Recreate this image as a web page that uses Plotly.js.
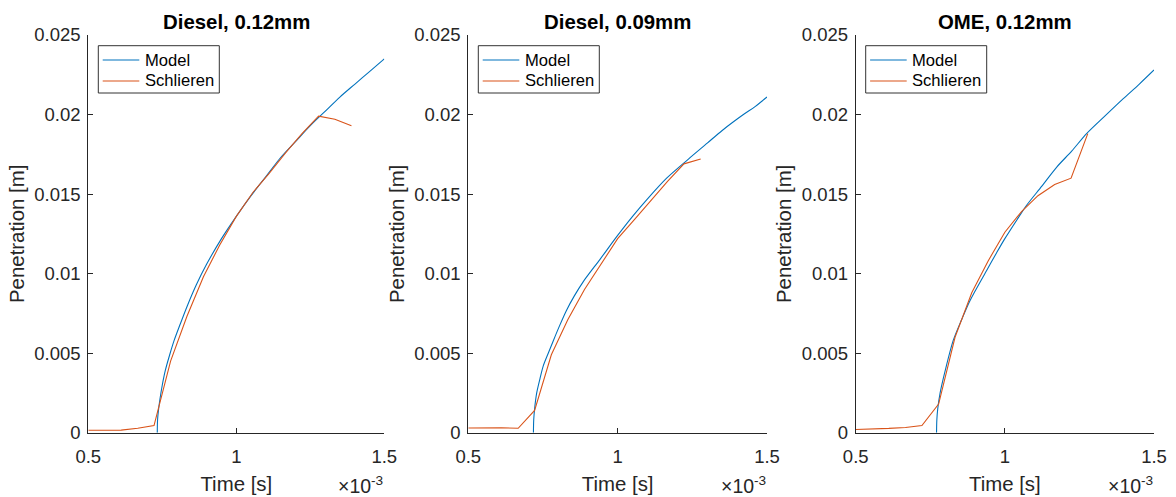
<!DOCTYPE html>
<html>
<head>
<meta charset="utf-8">
<script src="https://cdn.plot.ly/plotly-3.0.1.min.js"></script>
<style>html,body{margin:0;padding:0;background:#fff;}#chart{width:1176px;height:497px;}</style>
</head>
<body>
<div id="chart"></div>
<script>
// ---- data (time in ms, i.e. x 10^-3 s; penetration in m) ----
const panelTitles = ['Diesel, 0.12mm', 'Diesel, 0.09mm', 'OME, 0.12mm'];
const seriesNames = ['Model', 'Schlieren'];

const model1Time = [0.733, 0.734, 0.737, 0.742, 0.750, 0.760, 0.775, 0.790, 0.810, 0.835, 0.865, 0.900, 0.950, 1.000, 1.050, 1.100, 1.150, 1.200, 1.250, 1.300, 1.350, 1.400, 1.450, 1.500];
const model1Pen  = [0, 0.0008, 0.0014, 0.0021, 0.0030, 0.0039, 0.0049, 0.0058, 0.0068, 0.0080, 0.0093, 0.0106, 0.0122, 0.0136, 0.0149, 0.0161, 0.0173, 0.0183, 0.0193, 0.0202, 0.0211, 0.0219, 0.0227, 0.0235];
const schl1Time  = [0.500, 0.556, 0.611, 0.667, 0.722, 0.778, 0.833, 0.889, 0.944, 1.000, 1.056, 1.111, 1.167, 1.222, 1.278, 1.333, 1.389];
const schl1Pen   = [0.00015, 0.00017, 0.00016, 0.00028, 0.00045, 0.0045, 0.0073, 0.0098, 0.0118, 0.0136, 0.0151, 0.0163, 0.0176, 0.0188, 0.0199, 0.0197, 0.0193];

const model2Time = [0.718, 0.719, 0.722, 0.729, 0.740, 0.751, 0.770, 0.785, 0.805, 0.829, 0.855, 0.885, 0.941, 1.000, 1.050, 1.100, 1.164, 1.237, 1.300, 1.350, 1.421, 1.460, 1.500];
const model2Pen  = [0, 0.0008, 0.0015, 0.0025, 0.0034, 0.0042, 0.0051, 0.0058, 0.0067, 0.0077, 0.0086, 0.0095, 0.0109, 0.0124, 0.0136, 0.0147, 0.0160, 0.0172, 0.0182, 0.0190, 0.0200, 0.0205, 0.0211];
const schl2Time  = [0.500, 0.556, 0.611, 0.667, 0.722, 0.778, 0.833, 0.889, 0.944, 1.000, 1.056, 1.111, 1.167, 1.222, 1.278];
const schl2Pen   = [0.0003, 0.00032, 0.00031, 0.00028, 0.0014, 0.0049, 0.0071, 0.0090, 0.0106, 0.0122, 0.0134, 0.0146, 0.0158, 0.0169, 0.0172];

const model3Time = [0.771, 0.772, 0.775, 0.783, 0.800, 0.827, 0.855, 0.883, 0.939, 0.972, 1.000, 1.048, 1.073, 1.124, 1.174, 1.224, 1.274, 1.335, 1.397, 1.450, 1.500];
const model3Pen  = [0, 0.0008, 0.0015, 0.0025, 0.0039, 0.0058, 0.0071, 0.0083, 0.0102, 0.0113, 0.0122, 0.0136, 0.0143, 0.0155, 0.0167, 0.0177, 0.0188, 0.0199, 0.0210, 0.0219, 0.0228];
const schl3Time  = [0.500, 0.556, 0.611, 0.667, 0.722, 0.778, 0.833, 0.889, 0.944, 1.000, 1.056, 1.111, 1.167, 1.222, 1.278];
const schl3Pen   = [0.0002, 0.00022, 0.00027, 0.00033, 0.00045, 0.0018, 0.0060, 0.0088, 0.0108, 0.0126, 0.0139, 0.0149, 0.0156, 0.0160, 0.0188];

const xTickVals = [0.5, 1, 1.5];
const xTickText = ['0.5', '1', '1.5'];
const yTickVals = [0, 0.005, 0.01, 0.015, 0.02, 0.025];
const yTickText = ['0', '0.005', '0.01', '0.015', '0.02', '0.025'];

// ---- styling ----
const FONT = 'Liberation Sans, Arial, Helvetica, sans-serif';
const AX = '#262626';
const BLUE = '#0072BD';
const ORANGE = '#D95319';
const W = 1176, H = 497;
const xDomains = [[88.3 / W, 384.3 / W], [468.3 / W, 767 / W], [855.7 / W, 1154 / W]];
const yDomain = [(H - 432.7) / H, (H - 35) / H];
const px = v => v / W;          // horizontal pixel -> paper
const py = v => (H - v) / H;    // vertical pixel (from top) -> paper

const panels = [
  {mt: model1Time, mp: model1Pen, st: schl1Time, sp: schl1Pen},
  {mt: model2Time, mp: model2Pen, st: schl2Time, sp: schl2Pen},
  {mt: model3Time, mp: model3Pen, st: schl3Time, sp: schl3Pen}
];
const seriesColors = [BLUE, ORANGE];

const traces = [];
const layout = {
  width: W, height: H,
  margin: {l: 0, r: 0, t: 0, b: 0},
  paper_bgcolor: '#fff', plot_bgcolor: '#fff',
  showlegend: false,
  hovermode: false,
  annotations: [],
  shapes: []
};

panels.forEach((p, i) => {
  const n = i === 0 ? '' : String(i + 1);
  const xa = 'x' + n, ya = 'y' + n;
  traces.push({x: p.mt, y: p.mp, type: 'scatter', mode: 'lines', name: seriesNames[0],
    xaxis: xa, yaxis: ya, line: {color: BLUE, width: 1.1, shape: 'spline', smoothing: 0.8}});
  traces.push({x: p.st, y: p.sp, type: 'scatter', mode: 'lines', name: seriesNames[1],
    xaxis: xa, yaxis: ya, line: {color: ORANGE, width: 1.1}});

  layout['xaxis' + n] = {
    domain: xDomains[i], anchor: ya, range: [0.5, 1.5],
    showline: true, linecolor: AX, linewidth: 1, mirror: false,
    ticks: 'inside', ticklen: 5, tickwidth: 1, tickcolor: AX,
    tickvals: xTickVals, ticktext: xTickText, ticklabelstandoff: 7,
    tickfont: {family: FONT, size: 18.5, color: AX},
    showgrid: false, zeroline: false, fixedrange: true,
    title: {text: 'Time [s]', font: {family: FONT, size: 20.4, color: AX}, standoff: 10}
  };
  layout['yaxis' + n] = {
    domain: yDomain, anchor: xa, range: [0, 0.025],
    showline: true, linecolor: AX, linewidth: 1, mirror: false,
    ticks: 'inside', ticklen: 5, tickwidth: 1, tickcolor: AX,
    tickvals: yTickVals, ticktext: yTickText, ticklabelstandoff: 3,
    tickfont: {family: FONT, size: 18.5, color: AX},
    showgrid: false, zeroline: false, fixedrange: true,
    title: {text: 'Penetration [m]', font: {family: FONT, size: 20.4, color: AX}, standoff: 4}
  };

  // legend box (drawn in paper coordinates, top-left of each panel)
  const L = xDomains[i][0] * W;
  layout.shapes.push({type: 'rect', xref: 'paper', yref: 'paper',
    x0: px(L + 10), x1: px(L + 131), y0: py(93), y1: py(45.7),
    line: {color: '#333', width: 1}, fillcolor: '#fff', layer: 'above'});
  [60, 81].forEach((yy, k) => {
    layout.shapes.push({type: 'line', xref: 'paper', yref: 'paper',
      x0: px(L + 14.4), x1: px(L + 51), y0: py(yy), y1: py(yy),
      line: {color: seriesColors[k], width: 1.1}, layer: 'above'});
    layout.annotations.push({text: seriesNames[k], xref: 'paper', yref: 'paper',
      x: px(L + 54.5), y: py(yy), xanchor: 'left', yanchor: 'middle', showarrow: false,
      font: {family: FONT, size: 16.6, color: '#000'}});
  });

  layout.annotations.push({
    text: '<b>' + panelTitles[i] + '</b>', xref: 'paper', yref: 'paper',
    x: (xDomains[i][0] + xDomains[i][1]) / 2, y: py(22),
    xanchor: 'center', yanchor: 'middle', showarrow: false,
    font: {family: FONT, size: 20.4, color: '#000'}
  });
  layout.annotations.push({
    text: '×10<sup>-3</sup>', xref: 'paper', yref: 'paper',
    x: xDomains[i][1] + 0.5 / W, y: py(485),
    xanchor: 'right', yanchor: 'middle', showarrow: false,
    font: {family: FONT, size: 19.5, color: AX}
  });
});

Plotly.newPlot('chart', traces, layout, {displayModeBar: false, staticPlot: true});
</script>
</body>
</html>
